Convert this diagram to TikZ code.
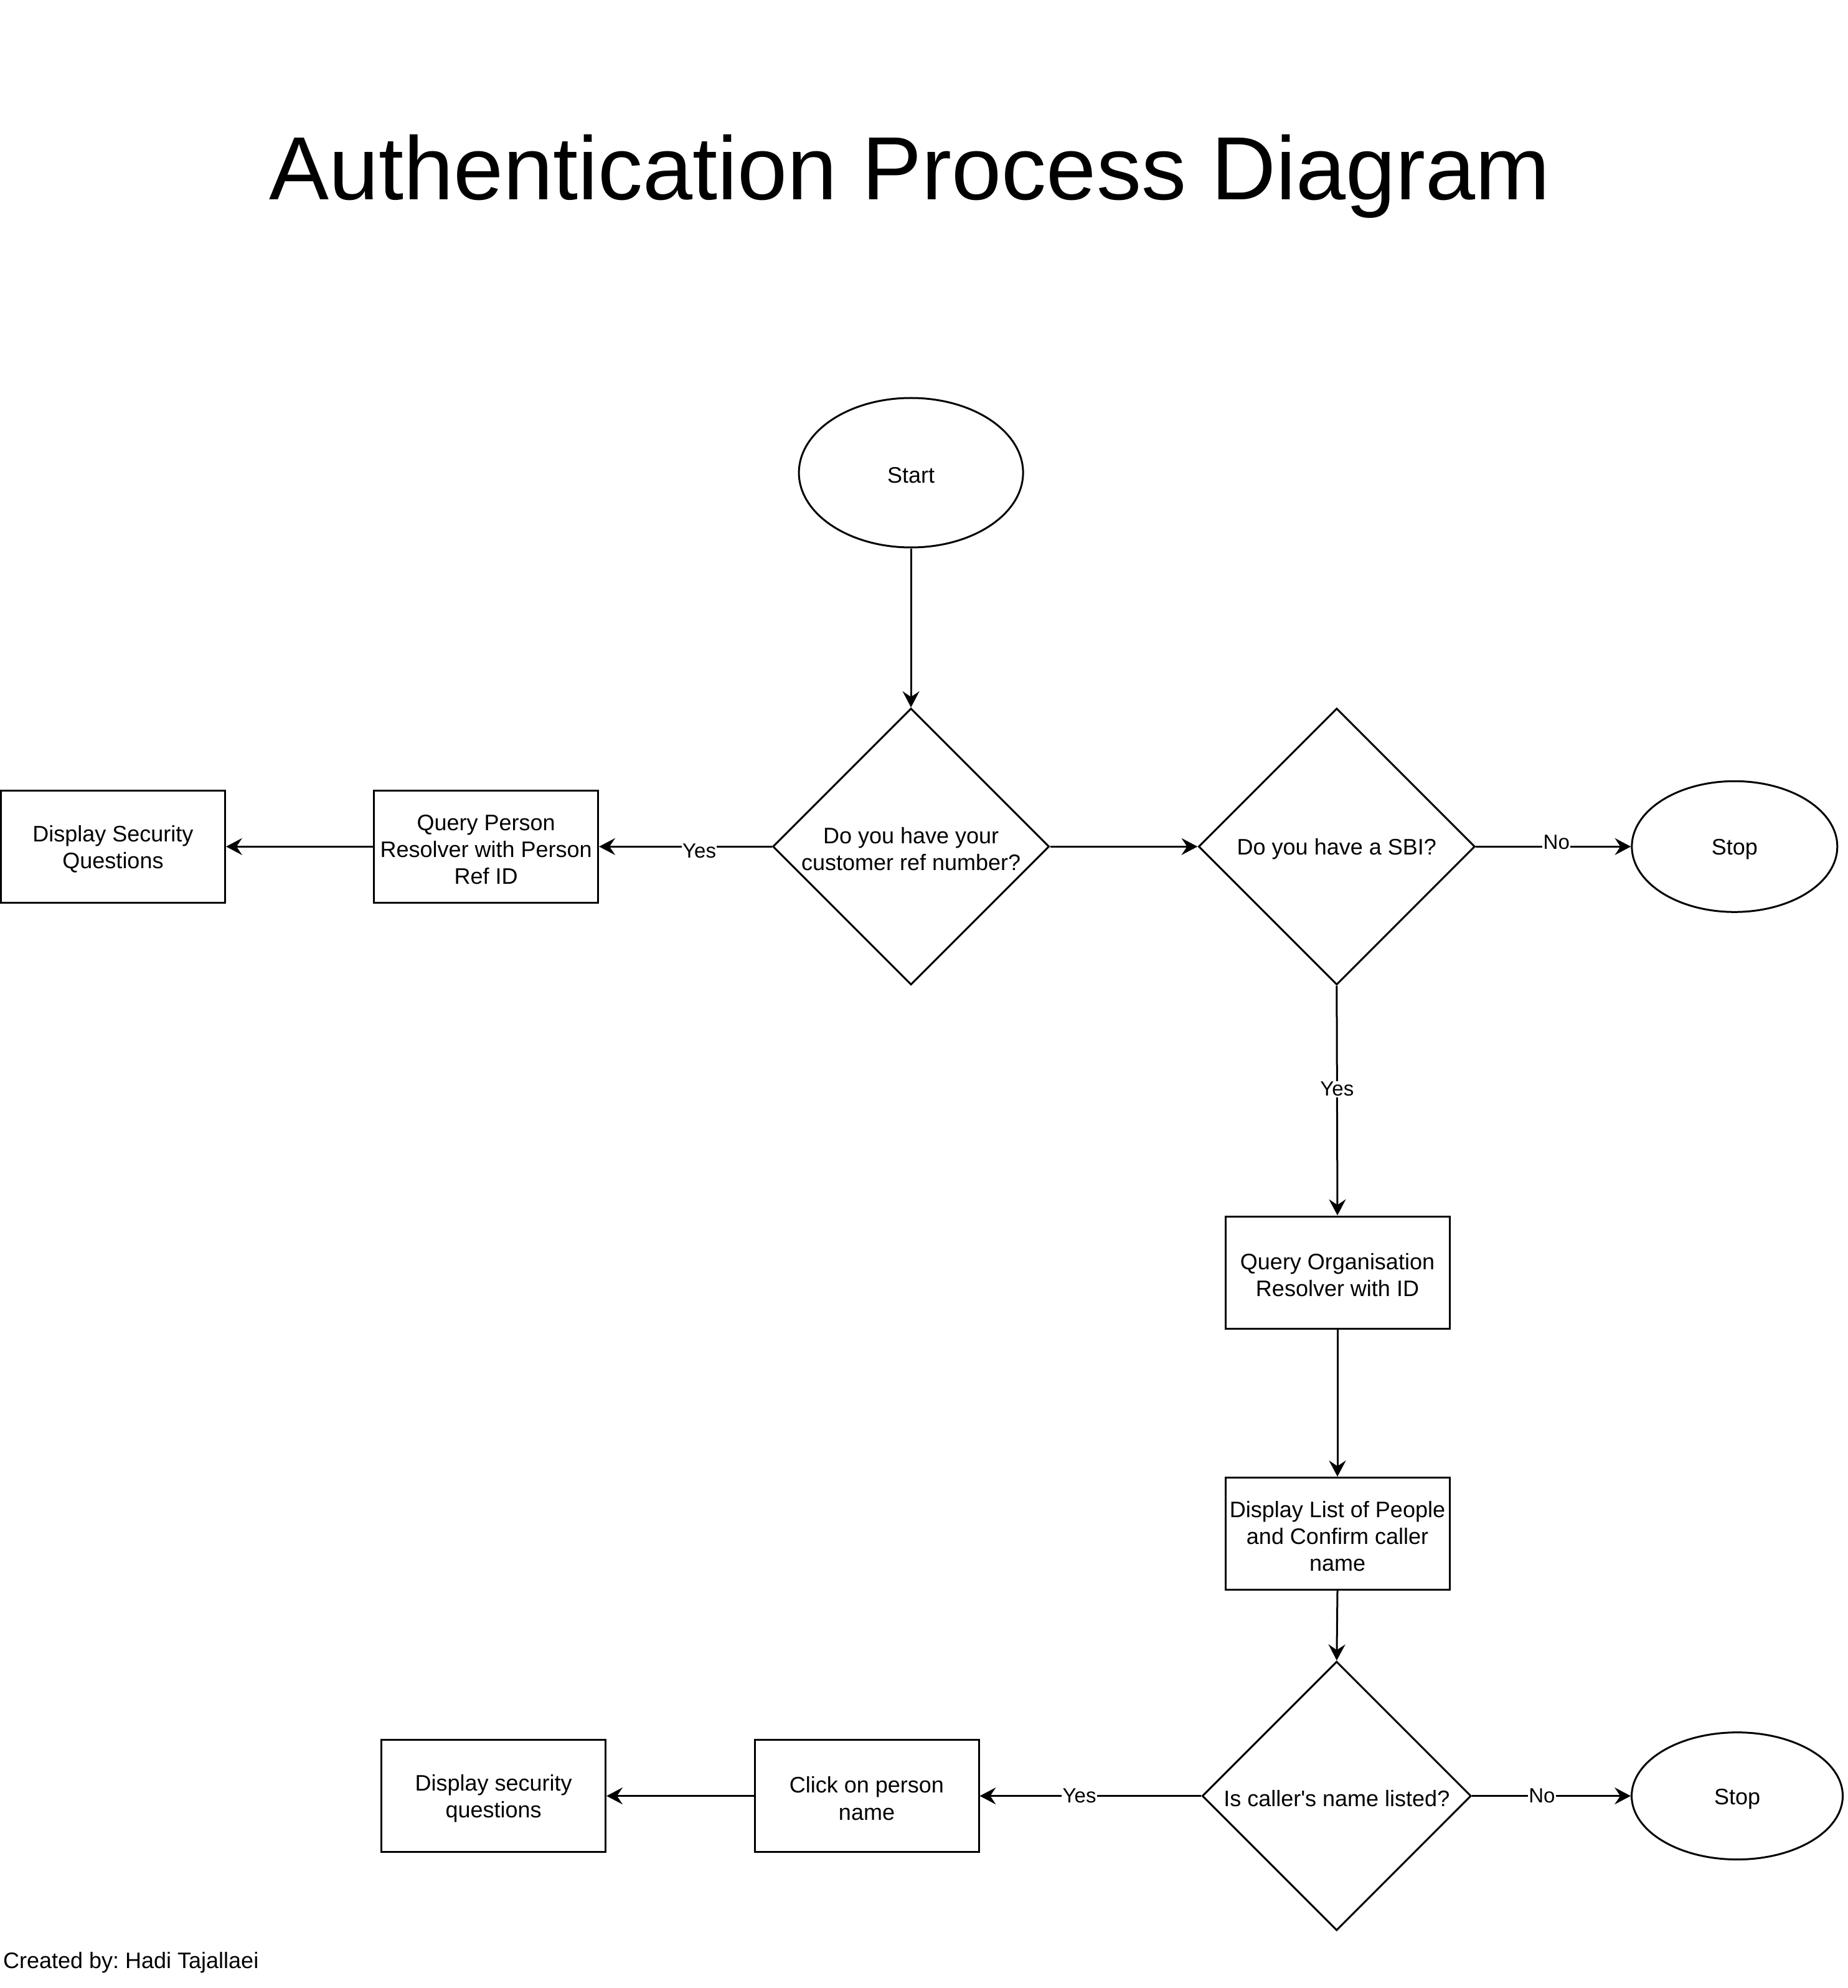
\documentclass[tikz,border=0pt]{standalone}
\usepackage{fontspec}
\setmainfont{Liberation Sans}
\usetikzlibrary{shapes.geometric,arrows.meta}
\frenchspacing
\newcommand{\toplift}{\rule{0pt}{11.4pt}}
\tikzset{
  every node/.style={font=\fontsize{12}{14.4}\selectfont, align=center},
  lowertext/.style={execute at begin node={\toplift}},
  boxnode/.style={draw, line width=1pt, rectangle, minimum width=120pt, minimum height=60pt, inner sep=0pt},
  decnode/.style={draw, line width=1pt, diamond, shape aspect=1, minimum width=148pt, minimum height=148pt, inner sep=0pt},
  termnode/.style={draw, line width=1pt, ellipse, inner sep=0pt, lowertext},
  conn/.style={line width=1pt, -{Stealth[length=8.6pt, width=9pt, inset=3pt]}},
  elabel/.style={fill=white, inner sep=0.5pt, font=\fontsize{11}{13}\selectfont},
}
\begin{document}
\begin{tikzpicture}[x=1pt,y=-1pt]
\useasboundingbox (0,0) rectangle (989,1064);

\node[anchor=base, font=\fontsize{48}{57.6}\selectfont] (title) at (487,107) {Authentication Process Diagram};

\node[termnode, minimum width=120pt, minimum height=80pt] (start) at (487.7,253) {Start};
\node[decnode] (q1) at (487.7,453.1) {\toplift Do you have your\\customer ref number?};
\node[decnode, lowertext] (q2) at (715.6,453.1) {Do you have a SBI?};
\node[termnode, minimum width=110pt, minimum height=70pt] (stop1) at (928.6,453.1) {Stop};
\node[boxnode] (qperson) at (260.2,453.1) {\toplift Query Person\\Resolver with Person\\Ref ID};
\node[boxnode] (dsec1) at (60.5,453.1) {\toplift Display Security\\Questions};
\node[boxnode] (qorg) at (716,681) {\toplift Query Organisation\\Resolver with ID};
\node[boxnode] (dlist) at (716,820.8) {\toplift Display List of People\\and Confirm caller\\name};
\node[decnode, lowertext, minimum width=144pt, minimum height=144pt] (q3) at (715.6,961.2) {Is caller\textquotesingle s name listed?};
\node[termnode, minimum width=113pt, minimum height=68pt] (stop2) at (930,961.2) {Stop};
\node[boxnode] (click) at (464,961.2) {\toplift Click on person\\name};
\node[boxnode] (dsec2) at (264.2,961.2) {\toplift Display security\\questions};

\node[anchor=base west, inner sep=0pt] (credit) at (1.5,1053.5) {Created by: Hadi Tajallaei};

\draw[conn] (start) -- (q1);
\draw[conn] (q1.west) -- node[elabel, pos=0.42, yshift=-2.5pt] {Yes} (qperson.east);
\draw[conn] (qperson.west) -- (dsec1.east);
\draw[conn] (q1.east) -- (q2.west);
\draw[conn] (q2.east) -- node[elabel, pos=0.52, yshift=2.5pt] {No} (stop1.west);
\draw[conn] (q2.south) -- node[elabel, pos=0.45] {Yes} (qorg.north);
\draw[conn] (qorg.south) -- (dlist.north);
\draw[conn] (dlist.south) -- (q3.north);
\draw[conn] (q3.west) -- node[elabel, pos=0.55] {Yes} (click.east);
\draw[conn] (click.west) -- (dsec2.east);
\draw[conn] (q3.east) -- node[elabel, pos=0.44] {No} (stop2.west);
\end{tikzpicture}
\end{document}
